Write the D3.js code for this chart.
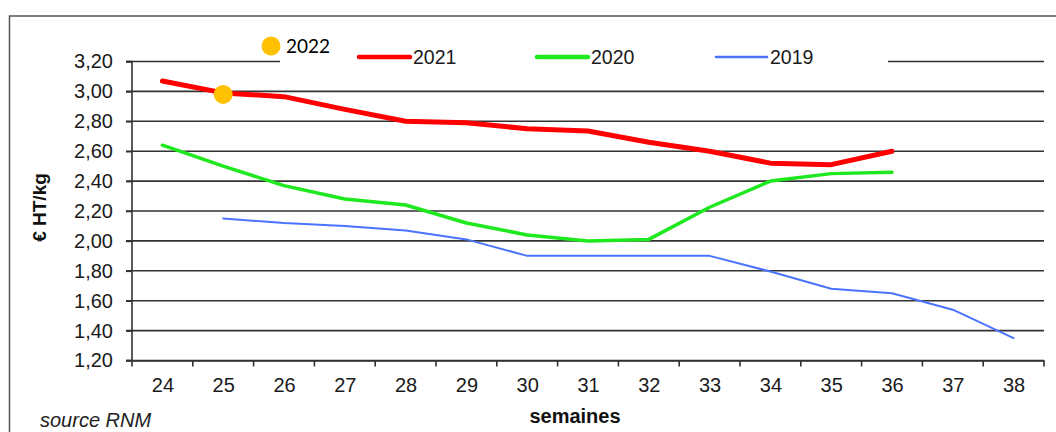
<!DOCTYPE html>
<html><head><meta charset="utf-8">
<script src="https://cdn.jsdelivr.net/npm/d3@7/dist/d3.min.js"></script>
<style>
html,body{margin:0;padding:0;background:#fff;}
svg{display:block;font-family:"Liberation Sans",Arial,sans-serif;}
</style></head>
<body>
<svg id="chart" width="1056" height="432"></svg>
<script>
const weeks = [24,25,26,27,28,29,30,31,32,33,34,35,36,37,38];
const yTicks = [1.2,1.4,1.6,1.8,2.0,2.2,2.4,2.6,2.8,3.0,3.2];
const s2021 = [3.07,2.99,2.965,2.88,2.80,2.79,2.75,2.735,2.66,2.60,2.52,2.51,2.60,null,null];
const s2020 = [2.64,2.50,2.37,2.28,2.24,2.12,2.04,2.00,2.01,2.225,2.40,2.45,2.46,null,null];
const s2019 = [null,2.15,2.12,2.10,2.07,2.01,1.90,1.90,1.90,1.90,1.795,1.68,1.65,1.54,1.35];
const p2022 = [{week:25, value:2.98}];
const seriesNames = ["2021","2020","2019"];
const seriesColors = ["#ff0000","#1ee81e","#4a74ff"];
const seriesWidths = [5,3.5,2];

(function(){
const svg = d3.select("#chart");
const pLeft = 132, pRight = 1044, pTop = 61.5, pBottom = 360.5;

const x = d3.scalePoint().domain(weeks).range([pLeft, pRight]).padding(0.5);
const y = d3.scaleLinear().domain([1.2, 3.2]).range([pBottom, pTop]);
const fmt = d => d3.format(".2f")(d).replace(".", ",");

// outer frame
svg.append("path").attr("d", "M9.5,432 L9.5,16 L1056,16")
  .attr("fill","none").attr("stroke","#555").attr("stroke-width",1.5);

// gridlines
const grid = svg.append("g");
yTicks.forEach(v => {
  const yy = y(v);
  if (v === 3.2) {
    grid.append("line").attr("x1", pLeft-6).attr("x2", 280).attr("y1", yy).attr("y2", yy);
    grid.append("line").attr("x1", 888).attr("x2", pRight).attr("y1", yy).attr("y2", yy);
  } else {
    grid.append("line").attr("x1", pLeft-6).attr("x2", pRight).attr("y1", yy).attr("y2", yy);
  }
});
grid.selectAll("line").attr("stroke","#333").attr("stroke-width",1.6);

// y axis
const yAxis = svg.append("g").attr("transform", `translate(${pLeft},0)`)
  .call(d3.axisLeft(y).tickValues(yTicks).tickFormat(fmt).tickSize(6).tickPadding(13));
yAxis.select(".domain").attr("stroke","#333").attr("stroke-width",1.6).attr("d", `M-6,${pTop}H0V${pBottom}H-6`);
yAxis.selectAll(".tick line").attr("stroke","#333").attr("stroke-width",1.6);
yAxis.selectAll("text").attr("font-size","20px").attr("fill","#1a1a1a").attr("font-family","Liberation Sans, Arial, sans-serif");

// x axis
const step = x.step();
const xAxis = svg.append("g").attr("transform", `translate(0,${pBottom})`)
  .call(d3.axisBottom(x).tickSizeInner(0).tickSizeOuter(0).tickPadding(17));
xAxis.select(".domain").attr("stroke","#333").attr("stroke-width",1.6);
xAxis.selectAll("text").attr("font-size","20px").attr("fill","#1a1a1a").attr("font-family","Liberation Sans, Arial, sans-serif");
const bounds = d3.range(weeks.length + 1).map(i => pLeft + i * step);
svg.append("g").selectAll("line").data(bounds).join("line")
  .attr("x1", d => d).attr("x2", d => d).attr("y1", pBottom).attr("y2", pBottom + 6)
  .attr("stroke","#333").attr("stroke-width",1.6);

// lines
const data = [s2021, s2020, s2019];
const line = d3.line().defined(d => d.v != null).x(d => x(d.w)).y(d => y(d.v));
[2,1,0].forEach(i => {
  const pts = weeks.map((w, j) => ({w, v: data[i][j]}));
  svg.append("path").datum(pts).attr("d", line)
    .attr("fill","none").attr("stroke", seriesColors[i]).attr("stroke-width", seriesWidths[i])
    .attr("stroke-linejoin","round").attr("stroke-linecap","round");
});

// 2022 point
svg.selectAll("circle.p22").data(p2022).join("circle")
  .attr("cx", d => x(d.week)).attr("cy", d => y(d.value)).attr("r", 9.5).attr("fill", "#ffc000");

// legend
const legX = [359, 537, 716];
seriesNames.forEach((n, i) => {
  svg.append("line").attr("x1", legX[i]).attr("x2", legX[i] + 51).attr("y1", 57).attr("y2", 57)
    .attr("stroke", seriesColors[i]).attr("stroke-width", seriesWidths[i] === 2 ? 2.5 : 4.5).attr("stroke-linecap","round");
  svg.append("text").attr("x", legX[i] + 54).attr("y", 64).text(n)
    .attr("font-size","19.5px").attr("fill","#1a1a1a");
});
svg.append("circle").attr("cx", 271).attr("cy", 46).attr("r", 9.5).attr("fill","#ffc000");
svg.append("text").attr("x", 286).attr("y", 53).text("2022")
  .attr("font-family","Lato, 'Open Sans', sans-serif").attr("font-size","19px").attr("fill","#000");

// axis titles
svg.append("text").attr("transform","translate(46,207.5) rotate(-90)").attr("text-anchor","middle")
  .attr("font-weight","bold").attr("font-size","19px").attr("fill","#111").text("€ HT/kg");
svg.append("text").attr("x", 575).attr("y", 423).attr("text-anchor","middle")
  .attr("font-weight","bold").attr("font-size","20px").attr("fill","#111").text("semaines");
svg.append("text").attr("x", 40).attr("y", 427)
  .attr("font-style","italic").attr("font-size","20px").attr("fill","#222").text("source RNM");
})();
</script>
</body></html>
